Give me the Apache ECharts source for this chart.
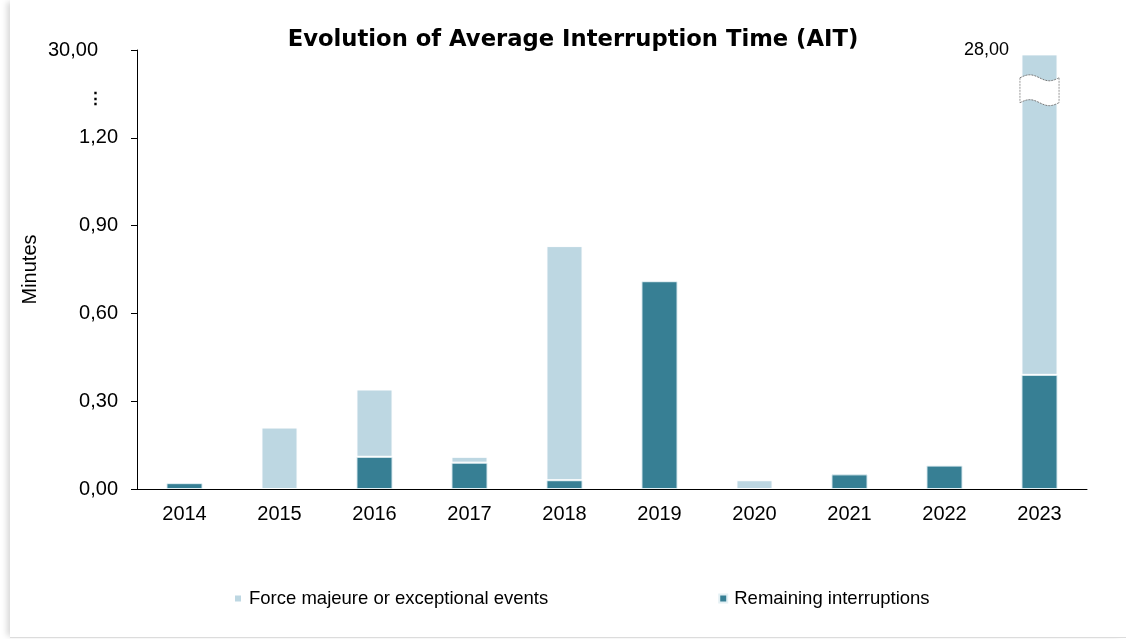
<!DOCTYPE html>
<html>
<head>
<meta charset="utf-8">
<script src="https://cdn.jsdelivr.net/npm/echarts@6/dist/echarts.min.js"></script>
<style>
  html, body { margin: 0; padding: 0; background: #fff; }
  #frame { position: absolute; left: 10px; top: 0; width: 1116px; height: 637px;
           border-bottom: 1px solid #dcdcdc; box-shadow: -5px 0 6px -2px #d8d8d8; }
  #main { position: absolute; left: 0; top: 0; width: 1126px; height: 639px; }
</style>
</head>
<body>
<div id="frame"></div>
<div id="main"></div>
<script>
// AIT in minutes per year
var years = ['2014', '2015', '2016', '2017', '2018', '2019', '2020', '2021', '2022', '2023'];
var forceMajeure = [0, 0.21, 0.23, 0.02, 0.80, 0.005, 0.03, 0, 0, 27.61];
var remaining = [0.02, 0, 0.11, 0.09, 0.03, 0.71, 0, 0.05, 0.08, 0.39];
var totals = [0.02, 0.21, 0.34, 0.11, 0.83, 0.715, 0.03, 0.05, 0.08, 28.00];
var tickValues = [0, 0.3, 0.6, 0.9, 1.2, 1.5];

// broken axis: anything above 1,20 is squeezed into the top segment
var axisTop = 1.5;       // shown as 30,00
var capTop = 1.485;      // where a clipped bar ends
var breakLow = 1.32, breakHigh = 1.405;

var fmt = function (v) { return v.toFixed(2).replace('.', ','); };
var orDash = function (v) { return v === 0 ? '-' : v; };

var forceShown = forceMajeure.map(function (v, i) {
  return totals[i] > axisTop ? capTop - remaining[i] : orDash(v);
});

var myChart = echarts.init(document.getElementById('main'));
var option = {
  animation: false,
  textStyle: { fontFamily: 'Liberation Sans, Arial, sans-serif' },
  title: {
    text: 'Evolution of Average Interruption Time (AIT)',
    left: 568, top: 24, textAlign: 'center',
    textStyle: { fontFamily: 'DejaVu Sans', fontWeight: 'bold', fontSize: 22.7, color: '#000' }
  },
  legend: {
    bottom: 26, left: 228, itemGap: 170,
    itemWidth: 8, itemHeight: 8, icon: 'rect',
    textStyle: { fontSize: 18.5, color: '#000', padding: [0, 0, 0, 2] },
    data: ['Force majeure or exceptional events', 'Remaining interruptions']
  },
  grid: { left: 137, right: 39, top: 50, bottom: 150 },
  xAxis: {
    type: 'category',
    data: years,
    axisLine: { lineStyle: { color: '#000', width: 1 } },
    axisTick: { lineStyle: { color: '#555' }, length: 5 },
    axisLabel: { color: '#000', fontSize: 20, margin: 15 }
  },
  yAxis: {
    type: 'value',
    min: 0, max: axisTop,
    name: 'Minutes', nameLocation: 'middle', nameGap: 97, nameRotate: 90,
    nameMoveOverlap: false,
    nameTextStyle: { fontSize: 20, color: '#000' },
    splitLine: { show: false },
    axisLine: { show: true, lineStyle: { color: '#000' } },
    axisTick: { show: true, length: 6, inside: false, customValues: tickValues, lineStyle: { color: '#000' } },
    axisLabel: {
      color: '#000', fontSize: 20, margin: 19,
      customValues: [0, 0.3, 0.6, 0.9, 1.2, 1.33, 1.5],
      formatter: function (v) {
        if (v >= 1.49) return '{top|30,00}';
        if (v > 1.3) return '{dots|⋮}';
        return fmt(v);
      },
      rich: {
        top: { fontSize: 20, color: '#000', padding: [0, 20, 0, 0] },
        dots: { fontSize: 17, fontWeight: 'bold', color: '#000', padding: [0, 14, 0, 0] }
      }
    }
  },
  series: [
    {
      name: 'Remaining interruptions', type: 'bar', stack: 'ait', barWidth: '38%',
      itemStyle: { color: '#377F94', borderColor: '#e4f0f4', borderWidth: 1 },
      data: remaining.map(orDash)
    },
    {
      name: 'Force majeure or exceptional events', type: 'bar', stack: 'ait',
      itemStyle: { color: '#BDD7E2', borderColor: '#ffffff', borderWidth: 1 },
      label: {
        show: true, position: 'top', offset: [-53, 10], color: '#000', fontSize: 18,
        formatter: function (p) { return totals[p.dataIndex] > axisTop ? fmt(totals[p.dataIndex]) : ''; }
      },
      data: forceShown
    },
    {
      // wavy break marker on clipped bars
      type: 'custom', silent: true, z: 10,
      data: years.map(function (y, i) { return totals[i] > axisTop ? [i, breakLow, breakHigh] : null; })
                 .filter(function (d) { return d; }),
      renderItem: function (params, api) {
        var lo = api.coord([api.value(0), api.value(1)]);
        var hi = api.coord([api.value(0), api.value(2)]);
        var w = api.size([1, 0])[0] * 0.38 + 3;
        var x0 = lo[0] - w / 2, x1 = lo[0] + w / 2;
        var amp = 3, n = 24, top = [], bot = [];
        for (var k = 0; k <= n; k++) {
          var x = x0 + (x1 - x0) * k / n;
          var s = Math.sin(k / n * Math.PI * 2);
          top.push([x, hi[1] - amp * s]);
          bot.push([x, lo[1] - amp * s]);
        }
        var poly = top.concat(bot.slice().reverse());
        return {
          type: 'group',
          children: [
            { type: 'polygon', shape: { points: poly }, style: { fill: '#fff', stroke: null } },
            { type: 'polyline', shape: { points: top }, style: { stroke: '#777', lineWidth: 1, lineDash: [2, 1], fill: null } },
            { type: 'polyline', shape: { points: bot }, style: { stroke: '#777', lineWidth: 1, lineDash: [2, 1], fill: null } },
            { type: 'line', shape: { x1: x0, y1: top[0][1], x2: x0, y2: bot[0][1] }, style: { stroke: '#999', lineWidth: 1, lineDash: [2, 1] } },
            { type: 'line', shape: { x1: x1, y1: top[n][1], x2: x1, y2: bot[n][1] }, style: { stroke: '#999', lineWidth: 1, lineDash: [2, 1] } }
          ]
        };
      }
    }
  ]
};
myChart.setOption(option);
</script>
</body>
</html>
